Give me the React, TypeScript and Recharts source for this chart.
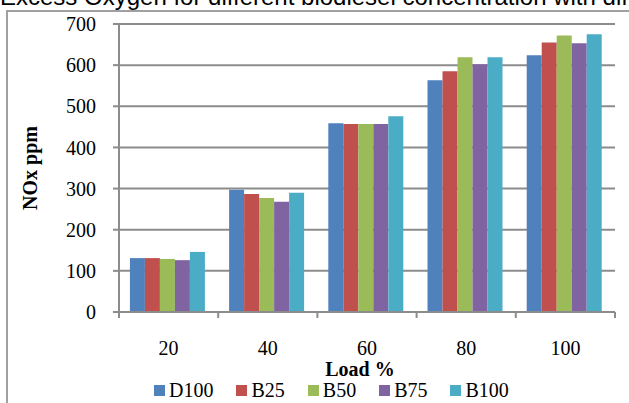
import React from 'react';
import { BarChart, Bar, XAxis, YAxis, CartesianGrid, Legend } from 'recharts';

const LOADS = ['20', '40', '60', '80', '100'];
const D100 = [131, 297, 459, 563, 624];
const B25 = [131, 287, 457, 585, 655];
const B50 = [129, 277, 457, 619, 672];
const B75 = [126, 268, 457, 602, 653];
const B100 = [146, 290, 476, 619, 675];
const Y_TICKS = [0, 100, 200, 300, 400, 500, 600, 700];

const SERIES = [
  { key: 'D100', color: '#4F81BD' },
  { key: 'B25', color: '#C0504D' },
  { key: 'B50', color: '#9BBB59' },
  { key: 'B75', color: '#8064A2' },
  { key: 'B100', color: '#4BACC6' },
];

const data = LOADS.map((load, i) => ({
  load,
  D100: D100[i],
  B25: B25[i],
  B50: B50[i],
  B75: B75[i],
  B100: B100[i],
}));

const W = 629;
const H = 403;
const MARGIN = { top: 24, right: 14, left: 0, bottom: 0 };
const Y_AXIS_W = 119;
const HALF_BAND = (W - MARGIN.right - Y_AXIS_W) / LOADS.length / 2;
const SERIF = '"Liberation Serif", "Times New Roman", serif';
const AXIS_GRAY = '#8c8c8c';

// category label plus the small tick marks that sit on the band edges
const LoadTick = (props: any) => {
  const { x, y, payload, index } = props;
  const last = index === LOADS.length - 1;
  return (
    <g>
      <line x1={x - HALF_BAND} x2={x - HALF_BAND} y1={y} y2={y + 6} stroke={AXIS_GRAY} strokeWidth={2} />
      {last && (
        <line x1={x + HALF_BAND} x2={x + HALF_BAND} y1={y} y2={y + 6} stroke={AXIS_GRAY} strokeWidth={2} />
      )}
      <text x={x} y={y + 43} textAnchor="middle" fontFamily={SERIF} fontSize={20} fill="#000">
        {payload.value}
      </text>
    </g>
  );
};

const LegendRow = () => (
  <div style={{ display: 'flex', paddingLeft: 154, fontFamily: SERIF, fontSize: 20, lineHeight: '22px', color: '#000' }}>
    {SERIES.map((s) => (
      <div key={s.key} style={{ display: 'flex', alignItems: 'center', marginRight: 23 }}>
        <span style={{ width: 11, height: 11, background: s.color, marginRight: 4, display: 'inline-block' }} />
        <span>{s.key}</span>
      </div>
    ))}
  </div>
);

export default function App() {
  return (
    <div style={{ position: 'fixed', left: 0, top: 0, width: W, height: H, overflow: 'hidden', background: '#fff' }}>
      <div
        style={{
          position: 'absolute',
          left: 6,
          top: 10,
          width: 700,
          height: 500,
          border: '2px solid #a0a0a0',
          zIndex: 2,
          pointerEvents: 'none',
        }}
      />
      <div
        style={{
          position: 'absolute',
          left: 0,
          top: -15,
          fontFamily: '"Liberation Sans", Arial, sans-serif',
          fontSize: 24,
          lineHeight: '24px',
          whiteSpace: 'nowrap',
          color: '#000',
          zIndex: 2,
        }}
      >
        Excess Oxygen for different biodiesel concentration with different load
      </div>
      <div style={{ position: 'absolute', left: 0, top: 0, zIndex: 1 }}>
        <BarChart width={W} height={H} data={data} margin={MARGIN} barCategoryGap="11%" barGap={0}>
          <CartesianGrid horizontal vertical={false} stroke={AXIS_GRAY} strokeWidth={2} />
          <XAxis
            dataKey="load"
            height={67}
            tickSize={0}
            tickMargin={0}
            tick={<LoadTick />}
            axisLine={{ stroke: AXIS_GRAY, strokeWidth: 2 }}
            interval={0}
            label={{
              value: 'Load %',
              position: 'insideBottom',
              offset: 0,
              dx: -7,
              dy: -3,
              style: { fontFamily: SERIF, fontSize: 20, fontWeight: 'bold', fill: '#000' },
            }}
          />
          <YAxis
            width={Y_AXIS_W}
            domain={[0, 700]}
            ticks={Y_TICKS}
            interval={0}
            tickSize={6}
            tickMargin={17}
            tickLine={{ stroke: AXIS_GRAY, strokeWidth: 2 }}
            axisLine={{ stroke: AXIS_GRAY, strokeWidth: 2 }}
            tick={{ fontFamily: SERIF, fontSize: 20, fill: '#000' }}
            label={{
              value: 'NOx ppm',
              angle: -90,
              position: 'insideLeft',
              offset: 0,
              dx: 30,
              style: { fontFamily: SERIF, fontSize: 20, fontWeight: 'bold', fill: '#000', textAnchor: 'middle' },
            }}
          />
          <Legend verticalAlign="bottom" height={24} content={<LegendRow />} wrapperStyle={{ left: 0, width: W, bottom: 0 }} />
          {SERIES.map((s) => (
            <Bar key={s.key} dataKey={s.key} fill={s.color} isAnimationActive={false} />
          ))}
        </BarChart>
      </div>
    </div>
  );
}
